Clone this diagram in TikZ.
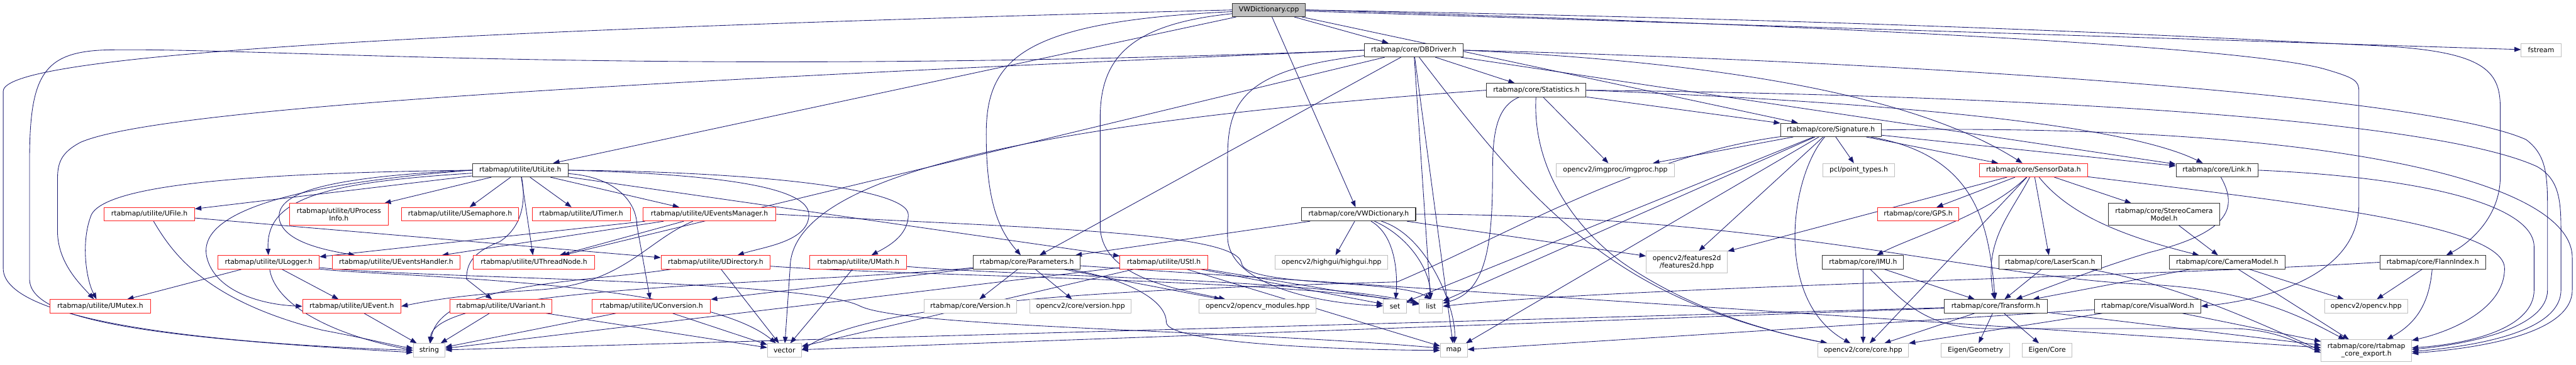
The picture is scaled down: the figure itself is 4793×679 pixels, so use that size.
\documentclass[tikz,border=0pt]{standalone}
\usepackage{fontspec}
\setmainfont{DejaVu Sans}
\usetikzlibrary{arrows.meta}
\definecolor{incblue}{HTML}{191970}
\definecolor{extgray}{HTML}{BFBFBF}
\definecolor{truncred}{HTML}{FF2020}
\newcommand{\graphfont}{\fontsize{12.7}{14}\selectfont}
\pgfdeclarelayer{edges}
\pgfsetlayers{edges,main}

\begin{document}
\begin{tikzpicture}[x=1pt,y=-1pt,
  box/.style={draw,fill=white,line width=1.2pt,minimum height=25pt,inner sep=0pt,align=center,font=\graphfont},
  docbox/.style={box,draw=black!80},
  redbox/.style={box,draw=truncred},
  extbox/.style={box,draw=extgray},
  rootbox/.style={box,draw=black!80,fill=extgray},
  twoline/.style={minimum height=40pt},
  inc/.style={draw=incblue,line width=1pt,-{Triangle[length=12pt,width=9pt]}}]
\useasboundingbox (0,0) rectangle (4793,679);
% the file itself
\node[rootbox,minimum width=136pt] (cpp) at (2361,18.5) {VWDictionary.cpp};
% upper rows
\node[docbox,minimum width=183pt] (dbdriver) at (2630.5,93.5) {rtabmap/core/DBDriver.h};
\node[extbox,minimum width=74pt] (fstream) at (4728,93.5) {fstream};
\node[docbox,minimum width=185pt] (statistics) at (2858.5,168) {rtabmap/core/Statistics.h};
\node[docbox,minimum width=187pt] (signature) at (3406.5,242) {rtabmap/core/Signature.h};
\node[docbox,minimum width=178pt] (utilite) at (968,317) {rtabmap/utilite/UtiLite.h};
\node[extbox,minimum width=219pt] (imgproc) at (3005.5,317) {opencv2/imgproc/imgproc.hpp};
\node[extbox,minimum width=133pt] (pcl) at (3458.5,317) {pcl/point\_types.h};
\node[redbox,minimum width=201pt] (sensordata) at (3783.5,317) {rtabmap/core/SensorData.h};
\node[docbox,minimum width=152pt] (link) at (4125,317) {rtabmap/core/Link.h};
% row of UFile
\node[redbox,minimum width=168pt] (ufile) at (278,399) {rtabmap/utilite/UFile.h};
\node[redbox,twoline,minimum width=183pt] (uprocess) at (630.5,399) {rtabmap/utilite/UProcess\\Info.h};
\node[redbox,minimum width=218pt] (usemaphore) at (856,399) {rtabmap/utilite/USemaphore.h};
\node[redbox,minimum width=183pt] (utimer) at (1081.5,399) {rtabmap/utilite/UTimer.h};
\node[redbox,minimum width=246pt] (uevtmanager) at (1320,399) {rtabmap/utilite/UEventsManager.h};
\node[docbox,minimum width=212pt] (vwdicth) at (2528,399) {rtabmap/core/VWDictionary.h};
\node[redbox,minimum width=150pt] (gps) at (3569,399) {rtabmap/core/GPS.h};
\node[docbox,twoline,minimum width=207pt] (stereo) at (4026.5,399) {rtabmap/core/StereoCamera\\Model.h};
% row of ULogger
\node[redbox,minimum width=188pt] (ulogger) at (500,488.5) {rtabmap/utilite/ULogger.h};
\node[redbox,minimum width=238pt] (uevthandler) at (737,488.5) {rtabmap/utilite/UEventsHandler.h};
\node[redbox,minimum width=225pt] (uthread) at (993.5,488.5) {rtabmap/utilite/UThreadNode.h};
\node[redbox,minimum width=203pt] (udirectory) at (1331.5,488.5) {rtabmap/utilite/UDirectory.h};
\node[redbox,minimum width=180pt] (umath) at (1597,488.5) {rtabmap/utilite/UMath.h};
\node[docbox,minimum width=199pt] (params) at (1910.5,488.5) {rtabmap/core/Parameters.h};
\node[redbox,minimum width=163pt] (ustl) at (2165.5,488.5) {rtabmap/utilite/UStl.h};
\node[extbox,minimum width=209pt] (highgui) at (2477.5,488.5) {opencv2/highgui/highgui.hpp};
\node[extbox,twoline,minimum width=151pt] (features) at (3138.5,488) {opencv2/features2d\\/features2d.hpp};
\node[docbox,minimum width=151pt] (imu) at (3466.5,488.5) {rtabmap/core/IMU.h};
\node[docbox,minimum width=191pt] (laserscan) at (3814.5,488.5) {rtabmap/core/LaserScan.h};
\node[docbox,minimum width=216pt] (camera) at (4144,488.5) {rtabmap/core/CameraModel.h};
\node[docbox,minimum width=197pt] (flann) at (4526.5,488.5) {rtabmap/core/FlannIndex.h};
% row of UMutex
\node[redbox,minimum width=187pt] (umutex) at (186.5,570.5) {rtabmap/utilite/UMutex.h};
\node[redbox,minimum width=183pt] (uevent) at (654.5,570.5) {rtabmap/utilite/UEvent.h};
\node[redbox,minimum width=190pt] (uvariant) at (932,570.5) {rtabmap/utilite/UVariant.h};
\node[redbox,minimum width=220pt] (uconversion) at (1212,570.5) {rtabmap/utilite/UConversion.h};
\node[extbox,minimum width=173pt] (version) at (1805.5,570.5) {rtabmap/core/Version.h};
\node[extbox,minimum width=189pt] (cvversion) at (2010.5,570.5) {opencv2/core/version.hpp};
\node[extbox,minimum width=218pt] (cvmodules) at (2340,570.5) {opencv2/opencv\_modules.hpp};
\node[extbox,minimum width=43pt] (stdset) at (2595.5,570.5) {set};
\node[extbox,minimum width=43pt] (stdlist) at (2662.5,570.5) {list};
\node[docbox,minimum width=191pt] (transform) at (3713.5,570.5) {rtabmap/core/Transform.h};
\node[docbox,minimum width=198pt] (visualword) at (3996,570.5) {rtabmap/core/VisualWord.h};
\node[extbox,minimum width=155pt] (opencvhpp) at (4402.5,570.5) {opencv2/opencv.hpp};
% bottom row
\node[extbox,minimum width=59pt] (stdstring) at (798.5,652.5) {string};
\node[extbox,minimum width=63pt] (stdvector) at (1459.5,652.5) {vector};
\node[extbox,minimum width=50pt] (stdmap) at (2705,652.5) {map};
\node[extbox,minimum width=169pt] (corehpp) at (3466.5,652.5) {opencv2/core/core.hpp};
\node[extbox,minimum width=127pt] (eigengeo) at (3675.5,652.5) {Eigen/Geometry};
\node[extbox,minimum width=92pt] (eigencore) at (3809,652.5) {Eigen/Core};
\node[extbox,twoline,minimum width=168pt] (export) at (4403,653) {rtabmap/core/rtabmap\\\_core\_export.h};

\begin{pgfonlayer}{edges}
% includes of VWDictionary.cpp
\draw[inc] (cpp) -- (dbdriver);
\draw[inc] (cpp) -- (utilite);
\draw[inc] (cpp) -- (vwdicth);
\draw[inc] (cpp) -- (signature);
\draw[inc] (cpp) -- (fstream);
\draw[inc] (cpp) .. controls (1900,40) and (1835,110) .. (1835,250) .. controls (1835,380) and (1860,430) .. (params);
\draw[inc] (cpp) .. controls (2100,45) and (2047,110) .. (2047,220) -- (2047,420) .. controls (2047,520) and (2200,540) .. (cvmodules);
\draw[inc] (cpp.west) .. controls (600,62) and (6,110) .. (6,170) -- (6,500) .. controls (6,600) and (400,640) .. (stdstring.west);
\draw[inc] (cpp.east) .. controls (3600,40) and (4100,70) .. (4420,85) .. controls (4620,95) and (4652,130) .. (4652,200) -- (4652,330) .. controls (4652,400) and (4600,450) .. (flann);
\draw[inc] (cpp.east) .. controls (3500,50) and (4200,90) .. (4330,130) .. controls (4380,145) and (4389,150) .. (4389,170) -- (4389,380) .. controls (4389,520) and (4200,560) .. (visualword.east);
% DBDriver.h
\draw[inc] (dbdriver) -- (statistics);
\draw[inc] (dbdriver) -- (stdlist);
\draw[inc] (dbdriver) -- (stdmap);
\draw[inc] (dbdriver) -- (params);
\draw[inc] (dbdriver) -- (uthread);
\draw[inc] (dbdriver) -- (link);
\draw[inc] (dbdriver.east) .. controls (3300,120) and (3600,200) .. (sensordata);
\draw[inc] (dbdriver) .. controls (2850,380) and (3000,560) .. (corehpp);
\draw[inc] (dbdriver) .. controls (2300,130) and (2284,200) .. (2284,300) -- (2284,440) .. controls (2284,530) and (2450,565) .. (stdset);
\draw[inc] (dbdriver.west) .. controls (1200,145) and (500,88) .. (200,93) .. controls (80,96) and (55,140) .. (55,300) -- (55,520) .. controls (55,600) and (300,630) .. ([yshift=-4pt]stdstring.west);
\draw[inc] (dbdriver.west) .. controls (1200,150) and (300,200) .. (150,265) .. controls (112,285) and (107,305) .. (107,335) -- (107,430) .. controls (107,490) and (150,530) .. (umutex);
\draw[inc] (dbdriver.east) .. controls (3400,110) and (4500,170) .. (4700,260) .. controls (4740,290) and (4740,330) .. (4740,400) -- (4740,540) .. controls (4740,610) and (4600,640) .. ([yshift=2pt]export.east);
% Statistics.h
\draw[inc] (statistics) -- (signature);
\draw[inc] (statistics) -- (imgproc);
\draw[inc] (statistics.east) .. controls (3500,190) and (3950,230) .. (link);
\draw[inc] (statistics) .. controls (2780,200) and (2777,260) .. (2777,330) .. controls (2777,470) and (2760,545) .. (stdlist);
\draw[inc] (statistics.west) .. controls (1900,230) and (1470,330) .. (1470,500) -- (stdvector);
\draw[inc] (statistics) .. controls (2850,330) and (2950,440) .. (3020,490) .. controls (3150,580) and (3300,620) .. (corehpp);
\draw[inc] (statistics.east) .. controls (3600,175) and (4500,210) .. (4720,310) .. controls (4765,335) and (4765,380) .. (4765,440) -- (4765,540) .. controls (4765,620) and (4600,645) .. ([yshift=-2pt]export.east);
% Signature.h
\draw[inc] (signature) -- (imgproc);
\draw[inc] (signature) -- (pcl);
\draw[inc] (signature) -- (features);
\draw[inc] (signature) -- (sensordata);
\draw[inc] (signature) -- (link);
\draw[inc] (signature) -- (stdset);
\draw[inc] (signature) -- (stdlist);
\draw[inc] (signature) -- (stdmap);
\draw[inc] (signature) .. controls (3680,290) and (3700,420) .. (transform);
\draw[inc] (signature) .. controls (3330,330) and (3300,560) .. (corehpp);
\draw[inc] (signature) .. controls (3050,290) and (2800,440) .. (2600,525) .. controls (2300,535) and (1650,545) .. (stdvector.east);
\draw[inc] (signature.east) .. controls (4300,230) and (4786,330) .. (4786,480) -- (4786,540) .. controls (4786,620) and (4620,648) .. ([yshift=-5pt]export.east);
% SensorData.h
\draw[inc] (sensordata) -- (gps);
\draw[inc] (sensordata) -- (stereo);
\draw[inc] (sensordata) -- (laserscan);
\draw[inc] (sensordata) -- (features);
\draw[inc] (sensordata) -- (corehpp);
\draw[inc] (sensordata) .. controls (3850,400) and (3950,440) .. (camera);
\draw[inc] (sensordata) .. controls (3740,400) and (3690,450) .. (transform);
\draw[inc] (sensordata) .. controls (3700,400) and (3560,440) .. (imu);
\draw[inc] (sensordata) .. controls (4300,380) and (4660,420) .. (4660,500) .. controls (4660,580) and (4550,620) .. (export);
% Link.h
\draw[inc] (link) .. controls (4160,380) and (4160,430) .. (4000,470) .. controls (3900,500) and (3800,540) .. (transform);
\draw[inc] (link.east) .. controls (4500,330) and (4715,380) .. (4715,460) -- (4715,540) .. controls (4715,610) and (4600,640) .. ([yshift=5pt]export.east);
% camera models, scans and the rest of rtabmap/core
\draw[inc] (stereo) -- (camera);
\draw[inc] (camera) -- (transform);
\draw[inc] (camera) -- (opencvhpp);
\draw[inc] (camera) -- (export);
\draw[inc] (laserscan) -- (transform);
\draw[inc] (laserscan) .. controls (4050,530) and (4200,600) .. (export.west);
\draw[inc] (imu) -- (corehpp);
\draw[inc] (imu) -- (transform);
\draw[inc] (imu) .. controls (3540,560) and (3580,612) .. (3700,612) -- (4150,612) .. controls (4230,612) and (4280,640) .. ([yshift=-4pt]export.west);
\draw[inc] (transform) -- (eigengeo);
\draw[inc] (transform) -- (eigencore);
\draw[inc] (transform) -- (corehpp);
\draw[inc] (transform) -- (stdvector);
\draw[inc] (transform) -- (stdstring);
\draw[inc] (transform) -- (export);
\draw[inc] (visualword) -- (corehpp);
\draw[inc] (visualword) -- (stdmap);
\draw[inc] (visualword) -- (export);
\draw[inc] (flann) -- (opencvhpp);
\draw[inc] (flann) .. controls (4520,560) and (4500,600) .. (export);
\draw[inc] (flann.west) .. controls (4000,515) and (3000,535) .. (stdlist.east);
% Parameters.h and VWDictionary.h
\draw[inc] (params) -- (version);
\draw[inc] (params) -- (cvversion);
\draw[inc] (params) -- (cvmodules);
\draw[inc] (params) -- (uconversion);
\draw[inc] (params) -- (export);
\draw[inc] (params) .. controls (1500,530) and (810,530) .. (stdstring);
\draw[inc] (params) .. controls (2100,520) and (2170,560) .. (2170,600) .. controls (2170,640) and (2500,652) .. (stdmap.west);
\draw[inc] (vwdicth) -- (highgui);
\draw[inc] (vwdicth) -- (features);
\draw[inc] (vwdicth) -- (params);
\draw[inc] (vwdicth) .. controls (2600,440) and (2600,520) .. (stdset);
\draw[inc] (vwdicth) .. controls (2620,440) and (2660,500) .. (stdlist);
\draw[inc] (vwdicth) .. controls (2660,440) and (2710,580) .. (stdmap);
\draw[inc] (vwdicth.east) .. controls (3300,400) and (3700,520) .. (4000,530) .. controls (4200,540) and (4300,600) .. (export);
% UtiLite.h
\draw[inc] (utilite) -- (ufile);
\draw[inc] (utilite) -- (uprocess);
\draw[inc] (utilite) -- (usemaphore);
\draw[inc] (utilite) -- (utimer);
\draw[inc] (utilite) -- (uevtmanager);
\draw[inc] (utilite) -- (uthread);
\draw[inc] (utilite) -- (ustl);
\draw[inc] (utilite) .. controls (600,340) and (494,370) .. (ulogger);
\draw[inc] (utilite.west) .. controls (500,322) and (200,340) .. (170,400) .. controls (150,450) and (160,520) .. (umutex);
\draw[inc] (utilite.west) .. controls (450,350) and (370,420) .. (385,480) .. controls (400,540) and (480,567) .. (uevent.west);
\draw[inc] (utilite.west) .. controls (600,330) and (510,360) .. (520,410) .. controls (530,450) and (600,465) .. (uevthandler);
\draw[inc] (utilite.east) .. controls (1350,325) and (1505,350) .. (1505,400) .. controls (1505,450) and (1420,460) .. (udirectory);
\draw[inc] (utilite.east) .. controls (1400,320) and (1690,350) .. (1690,400) .. controls (1690,440) and (1650,460) .. (umath);
\draw[inc] (utilite) .. controls (1150,330) and (1185,380) .. (1185,420) -- (uconversion);
\draw[inc] (utilite) .. controls (978,370) and (975,420) .. (930,450) .. controls (880,470) and (868,490) .. (868,520) -- (uvariant);
% the utilite headers
\draw[inc] (ufile) -- (udirectory);
\draw[inc] (ufile) .. controls (320,470) and (380,560) .. (600,615) .. controls (680,630) and (740,645) .. ([yshift=4pt]stdstring.west);
\draw[inc] (ulogger) -- (umutex);
\draw[inc] (ulogger) -- (uevent);
\draw[inc] (ulogger) .. controls (510,560) and (600,620) .. (stdstring.west);
\draw[inc] (ulogger) .. controls (700,515) and (1300,520) .. (stdvector);
\draw[inc] (ulogger) .. controls (800,520) and (1500,520) .. (1600,570) .. controls (1680,610) and (2300,615) .. ([yshift=4pt]stdmap.west);
\draw[inc] (uevtmanager) -- (uevthandler);
\draw[inc] (uevtmanager) -- (uthread);
\draw[inc] (uevtmanager) -- (ulogger);
\draw[inc] (uevtmanager.east) .. controls (1900,425) and (2300,430) .. (2310,490) .. controls (2315,535) and (2600,520) .. (stdlist.north);
\draw[inc] (uevtmanager) .. controls (1200,450) and (1160,530) .. (1000,540) .. controls (850,550) and (800,560) .. (uevent.east);
\draw[inc] (uevent) -- (stdstring);
\draw[inc] (uvariant) -- (stdstring);
\draw[inc] (uvariant) -- (stdvector);
\draw[inc] (uconversion) -- (stdstring);
\draw[inc] (uconversion) -- (stdvector);
\draw[inc] (udirectory) -- (stdvector);
\draw[inc] (udirectory) .. controls (1100,525) and (820,525) .. (stdstring);
\draw[inc] (udirectory) .. controls (1700,515) and (2400,520) .. (stdlist);
\draw[inc] (umath) -- (stdvector);
\draw[inc] (umath) .. controls (1900,515) and (2450,520) .. (stdlist);
\draw[inc] (ustl) -- (stdstring);
\draw[inc] (ustl) -- (stdvector);
\draw[inc] (ustl) -- (stdset);
\draw[inc] (ustl) -- (stdlist);
\draw[inc] (ustl) -- (stdmap);
\end{pgfonlayer}
\end{tikzpicture}
\end{document}
